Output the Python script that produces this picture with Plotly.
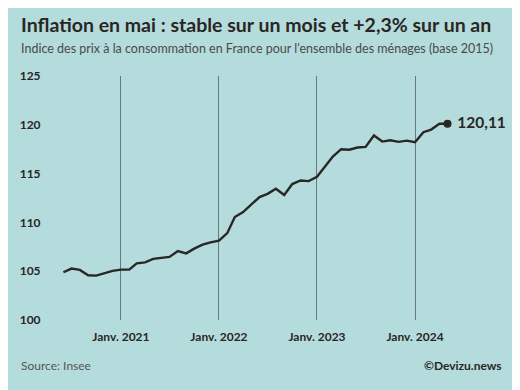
import plotly.graph_objects as go

months = [
    "2020-06-01", "2020-07-01", "2020-08-01", "2020-09-01", "2020-10-01", "2020-11-01", "2020-12-01",
    "2021-01-01", "2021-02-01", "2021-03-01", "2021-04-01", "2021-05-01", "2021-06-01",
    "2021-07-01", "2021-08-01", "2021-09-01", "2021-10-01", "2021-11-01", "2021-12-01",
    "2022-01-01", "2022-02-01", "2022-03-01", "2022-04-01", "2022-05-01", "2022-06-01",
    "2022-07-01", "2022-08-01", "2022-09-01", "2022-10-01", "2022-11-01", "2022-12-01",
    "2023-01-01", "2023-02-01", "2023-03-01", "2023-04-01", "2023-05-01", "2023-06-01",
    "2023-07-01", "2023-08-01", "2023-09-01", "2023-10-01", "2023-11-01", "2023-12-01",
    "2024-01-01", "2024-02-01", "2024-03-01", "2024-04-01", "2024-05-01",
]
cpi = [
    104.89, 105.27, 105.13, 104.58, 104.55, 104.79, 105.03,
    105.16, 105.16, 105.81, 105.91, 106.26, 106.39,
    106.46, 107.07, 106.83, 107.31, 107.72, 107.96,
    108.14, 108.90, 110.55, 111.06, 111.81, 112.60,
    112.93, 113.45, 112.80, 113.93, 114.30, 114.23,
    114.67, 115.73, 116.75, 117.50, 117.45, 117.67,
    117.74, 118.90, 118.28, 118.42, 118.25, 118.38,
    118.22, 119.24, 119.51, 120.10, 120.11,
]
tick_dates = ["2021-01-01", "2022-01-01", "2023-01-01", "2024-01-01"]
tick_labels = ["Janv. 2021", "Janv. 2022", "Janv. 2023", "Janv. 2024"]
y_ticks = [100, 105, 110, 115, 120, 125]

BG = "#b4dcdc"
INK = "#2a2624"
FONT = "Lato"

# page body adds an 8px offset; compensate so the figure lands where the reference has it
OFF = 8
W, H = 520, 390
ML, MR, MT, MB = 47 - OFF, 15 + OFF, 76 - OFF, 70 + OFF
PW, PH = W - ML - MR, H - MT - MB


def px(x, y):
    """Convert a target screen pixel position into paper coordinates."""
    return (x - OFF - ML) / PW, (H - (y - OFF) - MB) / PH


fig = go.Figure()
fig.add_trace(go.Scatter(
    x=months, y=cpi, mode="lines",
    line=dict(color=INK, width=2.4), hoverinfo="skip", showlegend=False,
))
last_label = f"{cpi[-1]:.2f}".replace(".", ",")
fig.add_trace(go.Scatter(
    x=[months[-1]], y=[cpi[-1]], mode="markers+text",
    marker=dict(color=INK, size=8),
    text=[" " + last_label], textposition="middle right",
    textfont=dict(family=FONT, size=15.5, color=INK, weight=700),
    hoverinfo="skip", showlegend=False, cliponaxis=False,
))

anns = []
def ann(text, x, y, anchor, size, color, weight=400):
    ax, ay = px(x, y)
    anns.append(dict(text=text, x=ax, y=ay, xref="paper", yref="paper",
                     showarrow=False, xanchor=anchor, yanchor="middle",
                     font=dict(family=FONT, size=size, color=color, weight=weight)))

ann("Inflation en mai : stable sur un mois et +2,3% sur un an", 16, 24, "left", 19.5, INK, 700)
ann("Indice des prix à la consommation en France pour l'ensemble des ménages (base 2015)",
    16, 48, "left", 12.5, "#4a4a4a")
ann("Source: Insee", 16, 366, "left", 12, "#555555")
ann("©Devizu.news", 504, 366, "right", 12, INK, 700)

fig.update_layout(
    width=W, height=H,
    paper_bgcolor=BG, plot_bgcolor=BG,
    margin=dict(l=ML, r=MR, t=MT, b=MB),
    font=dict(family=FONT, color=INK),
    xaxis=dict(
        type="date", range=["2020-04-12", "2024-12-01"],
        tickvals=tick_dates, ticktext=tick_labels,
        showgrid=True, gridcolor="#68797a", gridwidth=1,
        showline=False, zeroline=False,
        ticks="outside", ticklen=6, tickcolor=BG,
        tickfont=dict(family=FONT, size=12, color=INK, weight=700),
    ),
    yaxis=dict(
        range=[100, 125], tickvals=y_ticks,
        showgrid=False, zeroline=False, showline=False,
        ticks="outside", ticklen=6, tickcolor=BG,
        tickfont=dict(family=FONT, size=12, color=INK, weight=700),
    ),
    annotations=anns,
)

fig.write_html("out.html")
